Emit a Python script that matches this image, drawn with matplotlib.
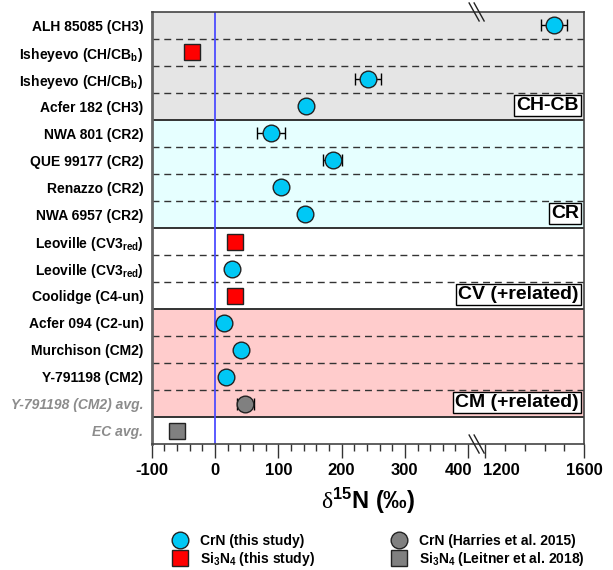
import numpy as np
import matplotlib
matplotlib.use("Agg")
import matplotlib.pyplot as plt
import matplotlib.ticker as ticker
from matplotlib.lines import Line2D
from matplotlib.transforms import ScaledTranslation, blended_transform_factory

plt.rcParams['font.family'] = ['Liberation Sans', 'DejaVu Sans']
plt.rcParams['mathtext.fontset'] = 'custom'
plt.rcParams['mathtext.rm'] = 'Liberation Serif'
plt.rcParams['mathtext.bf'] = 'Liberation Sans:bold'
plt.rcParams['mathtext.it'] = 'Liberation Sans:italic:bold'

# row labels (top to bottom)
row_labels = ["ALH 85085 (CH3)", r"Isheyevo (CH/CB$_\mathbf{b}$)", r"Isheyevo (CH/CB$_\mathbf{b}$)",
              "Acfer 182 (CH3)", "NWA 801 (CR2)", "QUE 99177 (CR2)", "Renazzo (CR2)",
              "NWA 6957 (CR2)", r"Leoville (CV3$_\mathbf{red}$)", r"Leoville (CV3$_\mathbf{red}$)",
              "Coolidge (C4-un)", "Acfer 094 (C2-un)", "Murchison (CM2)", "Y-791198 (CM2)",
              "Y-791198 (CM2) avg.", "EC avg."]

# CrN (this study)
crn_rows = [0, 2, 3, 4, 5, 6, 7, 9, 11, 12, 13]
crn_vals = [1478, 242, 144, 88, 186, 105, 143, 27, 14, 41, 18]
crn_err = [54, 21, 0, 22, 15, 0, 0, 0, 0, 0, 0]
# Si3N4 (this study)
si_rows = [1, 8, 10]
si_vals = [-37, 31, 32]
# CrN (Harries et al. 2015)
harries_rows = [14]
harries_vals = [48]
harries_err = [14]
# Si3N4 (Leitner et al. 2018)
leitner_rows = [15]
leitner_vals = [-60]

groups = ["CH-CB", "CR", "CV (+related)", "CM (+related)", ""]
group_edges = [-0.5, 3.5, 7.5, 10.5, 14.5, 15.5]
group_colors = ["#e5e5e5", "#e6ffff", "#ffffff", "#ffcccc", "#ffffff"]

major_ticks = [-100, 0, 100, 200, 300, 400, 1200, 1600]
minor_ticks = [v for v in range(-80, 400, 20) if v % 100 != 0] + [1280, 1360, 1440, 1520]

# broken x axis: compress 400..1200 and 1200..1600
bx = [-1e4, 400, 1200, 1e5]
bu = [-1e4, 400, 427.0, 427.0 + (1e5 - 1200) * 0.391]


def fwd(v):
    return np.interp(v, bx, bu)


def inv(u):
    return np.interp(u, bu, bx)


cyan = "#00c8f5"
red = "#ff0000"
gray = "#808080"

fig = plt.figure(figsize=(6.13, 5.7), dpi=100)
ax = fig.add_axes([0.2475, 0.221, 0.7055, 0.758])
ax.set_xscale('function', functions=(fwd, inv))
ax.set_xlim(-100, 1600)
ax.set_ylim(15.5, -0.5)

# backgrounds and row separators
for i in range(len(groups)):
    ax.axhspan(group_edges[i], group_edges[i + 1], color=group_colors[i], zorder=0, lw=0)
for b in np.arange(0.5, 15, 1.0):
    if b in group_edges:
        ax.axhline(b, color="#333333", lw=1.4, zorder=1)
    else:
        ax.axhline(b, color="#333333", lw=1.0, ls=(0, (5, 3.5)), zorder=1)

ax.axvline(0, color="#4d4dff", lw=1.3, zorder=2)

# data
ax.errorbar(crn_vals, crn_rows, xerr=crn_err, fmt='none', ecolor='black', elinewidth=1,
            capsize=4, zorder=3)
ax.errorbar(harries_vals, harries_rows, xerr=harries_err, fmt='none', ecolor='black',
            elinewidth=1, capsize=4, zorder=3)
ax.plot(crn_vals, crn_rows, 'o', ms=12, mfc=cyan, mec='#222222', mew=1, ls='none', zorder=4)
ax.plot(si_vals, si_rows, 's', ms=12, mfc=red, mec='#222222', mew=1, ls='none', zorder=4)
ax.plot(harries_vals, harries_rows, 'o', ms=12, mfc=gray, mec='#222222', mew=1, ls='none', zorder=4)
ax.plot(leitner_vals, leitner_rows, 's', ms=12, mfc=gray, mec='#222222', mew=1, ls='none', zorder=4)

# group labels
tr = blended_transform_factory(ax.transAxes, ax.transData)
for i, g in enumerate(groups):
    if g:
        ax.text(0.988, group_edges[i + 1] - 0.22, g, transform=tr, ha='right', va='bottom',
                fontsize=14, fontweight='bold', zorder=5,
                bbox=dict(boxstyle='square,pad=0.12', fc='white', ec='black', lw=1))

# axes styling
ax.set_yticks(range(len(row_labels)))
ax.set_yticklabels(row_labels, fontsize=10, fontweight='bold')
ax.tick_params(axis='y', length=0, pad=6)
for lab in ax.get_yticklabels()[14:]:
    lab.set_color("#8c8c8c")
    lab.set_style('italic')

ax.xaxis.set_major_locator(ticker.FixedLocator(major_ticks))
ax.xaxis.set_minor_locator(ticker.FixedLocator(minor_ticks))
ax.xaxis.set_major_formatter(ticker.FixedFormatter([str(t) for t in major_ticks]))
ax.tick_params(axis='x', which='major', length=10, width=1, color='#333333', labelsize=12, pad=4)
ax.tick_params(axis='x', which='minor', length=5, width=1, color='#333333')
for lab in ax.get_xticklabels():
    lab.set_fontweight('bold')
xl = ax.get_xticklabels()
xl[5].set_transform(xl[5].get_transform() + ScaledTranslation(-0.1, 0, fig.dpi_scale_trans))
xl[6].set_transform(xl[6].get_transform() + ScaledTranslation(0.16, 0, fig.dpi_scale_trans))

for s in ax.spines.values():
    s.set_color('#444444')
    s.set_linewidth(1.2)
ax.spines['left'].set_linewidth(2)
ax.spines['left'].set_color('#666666')

ax.set_xlabel(r"$\mathrm{\delta}^{\mathbf{15}}$N (‰)", fontsize=17, fontweight='bold', labelpad=5)

# break marks
px = 1 / 432.6
py = 1 / 432.0
bc = (476.7 - 151.7) * px
for yb in (0, 1):
    for dx in (-2.5, 2.5):
        ax.plot([bc + dx * px - 5 * px, bc + dx * px + 5 * px], [yb + 9 * py, yb - 9 * py],
                transform=ax.transAxes, color='#222222', lw=1, clip_on=False, zorder=6)

# legend
handles = [
    Line2D([], [], marker='o', ls='none', ms=12, mfc=cyan, mec='#222222'),
    Line2D([], [], marker='s', ls='none', ms=12, mfc=red, mec='#222222'),
    Line2D([], [], marker='o', ls='none', ms=12, mfc=gray, mec='#222222'),
    Line2D([], [], marker='s', ls='none', ms=12, mfc=gray, mec='#222222'),
]
labels = ["CrN (this study)", r"Si$_\mathbf{3}$N$_\mathbf{4}$ (this study)",
          "CrN (Harries et al. 2015)", r"Si$_\mathbf{3}$N$_\mathbf{4}$ (Leitner et al. 2018)"]
leg = fig.legend(handles, labels, loc='upper left', bbox_to_anchor=(0.283, 0.063), ncol=2,
                 frameon=False, handlelength=1.0, handletextpad=0.9, columnspacing=5.6,
                 labelspacing=0.15, prop={'weight': 'bold', 'size': 10}, borderaxespad=0,
                 borderpad=0)

fig.savefig("out.png", dpi=100)
